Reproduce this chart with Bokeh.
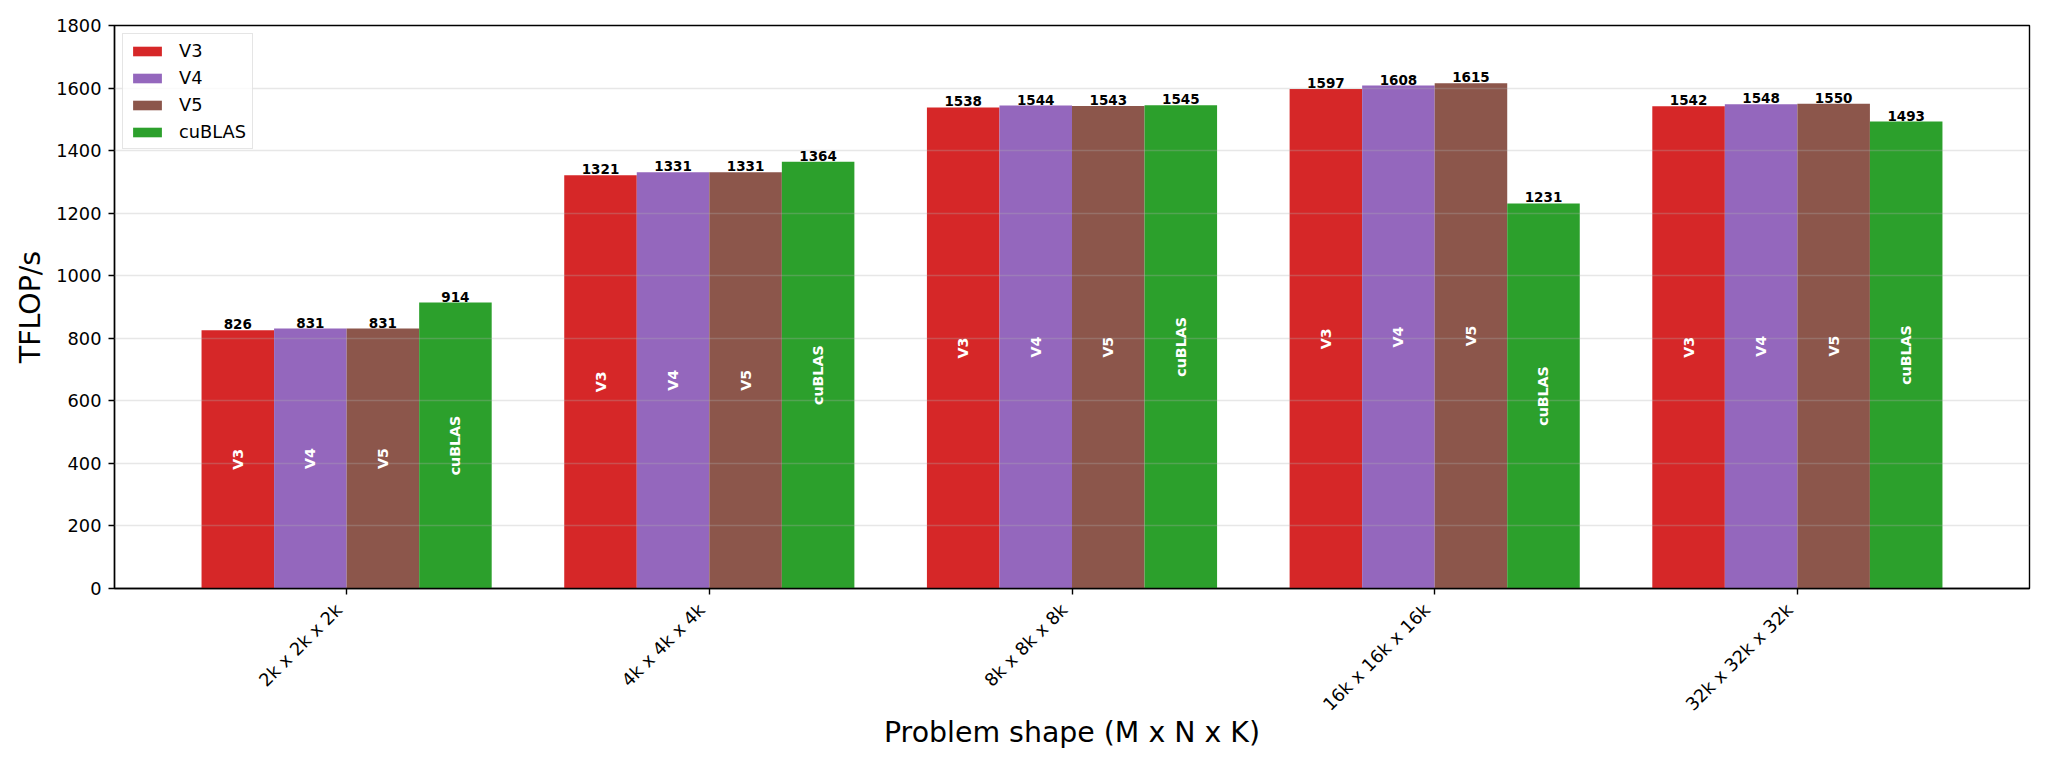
import math
from bokeh.plotting import figure
from bokeh.models import FixedTicker, Range1d, ColumnDataSource, LinearAxis
from bokeh.embed import file_html
from bokeh.resources import INLINE
from bokeh.core.properties import value

# ---- data ----
shapes = ["2k x 2k x 2k", "4k x 4k x 4k", "8k x 8k x 8k", "16k x 16k x 16k", "32k x 32k x 32k"]
series_names = ["V3", "V4", "V5", "cuBLAS"]
v3 = [826, 1321, 1538, 1597, 1542]
v4 = [831, 1331, 1544, 1608, 1548]
v5 = [831, 1331, 1543, 1615, 1550]
cublas = [914, 1364, 1545, 1231, 1493]
series_colors = ["#d62728", "#9467bd", "#8c564b", "#2ca02c"]
y_ticks = [0, 200, 400, 600, 800, 1000, 1200, 1400, 1600, 1800]

series_values = [v3, v4, v5, cublas]
bar_w = 0.2
label_shift = 0.022  # tick labels are right-aligned just left of their tick
FONT = "DejaVu Sans"

p = figure(
    frame_width=1915, frame_height=563,
    x_range=Range1d(-0.64, 4.64), y_range=Range1d(0, 1800),
    output_backend="svg", toolbar_location=None,
    min_border_left=114, min_border_right=11, min_border_top=25, min_border_bottom=172,
)
p.background_fill_color = "white"
p.border_fill_color = "white"
p.outline_line_color = "black"
p.outline_line_width = 1.4

for j, (name, vals, col) in enumerate(zip(series_names, series_values, series_colors)):
    xs = [i + (j - 1.5) * bar_w for i in range(len(shapes))]
    src = ColumnDataSource(dict(
        x=xs, top=vals, mid=[v / 2 for v in vals],
        lab=[str(v) for v in vals], name=[name] * len(vals),
    ))
    p.vbar(x="x", top="top", width=bar_w, source=src, fill_color=col, line_color=None,
           legend_label=name)
    p.text(x="x", y="top", text="lab", source=src, text_align="center",
           text_baseline="alphabetic", y_offset=-6, text_color="black",
           text_font=value(FONT), text_font_style="bold", text_font_size="13.5px",
           level="annotation")
    p.text(x="x", y="mid", text="name", source=src, angle=math.pi / 2,
           text_align="center", text_baseline="middle", text_color="white",
           text_font=value(FONT), text_font_style="bold", text_font_size="14.2px",
           level="annotation")

# grid
p.xgrid.visible = False
p.ygrid.grid_line_color = "#b0b0b0"
p.ygrid.grid_line_alpha = 0.3
p.ygrid.grid_line_width = 1.4
p.ygrid.level = "guide"
p.ygrid.ticker = FixedTicker(ticks=y_ticks)

# axes
x_ticks = list(range(len(shapes)))
p.yaxis.ticker = FixedTicker(ticks=y_ticks)
p.xaxis.ticker = FixedTicker(ticks=x_ticks)

for ax in (p.xaxis, p.yaxis):
    ax.axis_line_color = "black"
    ax.axis_line_width = 1.4
    ax.major_tick_line_color = "black"
    ax.major_tick_line_width = 1.4
    ax.major_tick_out = 6
    ax.major_tick_in = 0
    ax.minor_tick_line_color = None
    ax.major_label_text_font = FONT
    ax.major_label_text_font_size = "17.8px"
    ax.major_label_text_color = "black"
    ax.major_label_standoff = 7
    ax.axis_label_text_font = FONT
    ax.axis_label_text_font_size = "28.4px"
    ax.axis_label_text_font_style = "normal"
    ax.axis_label_text_color = "black"

# tick-only bottom axis
p.xaxis.major_label_overrides = {t: "" for t in x_ticks}
p.xaxis.major_label_text_font_size = "0px"
p.xaxis.major_label_standoff = 0

# label-only bottom axis
lab_ticks = [t - label_shift for t in x_ticks]
lab_axis = LinearAxis(
    ticker=FixedTicker(ticks=lab_ticks),
    major_label_overrides={t: s for t, s in zip(lab_ticks, shapes)},
    major_label_orientation=math.pi / 4,
    major_tick_out=0, major_tick_in=0, major_tick_line_color=None,
    minor_tick_line_color=None, axis_line_color=None,
    major_label_text_font=FONT, major_label_text_font_size="17.8px",
    major_label_text_color="black", major_label_standoff=12,
    axis_label="Problem shape (M x N x K)",
    axis_label_text_font=FONT, axis_label_text_font_size="28.4px",
    axis_label_text_font_style="normal", axis_label_text_color="black",
    axis_label_standoff=-9,
)
p.add_layout(lab_axis, "below")

p.yaxis.axis_label_standoff = 6
p.yaxis.axis_label = "TFLOP/s"

# legend
lg = p.legend[0]
lg.location = "top_left"
lg.margin = 8
lg.padding = 6
lg.spacing = 6
lg.glyph_width = 36
lg.glyph_height = 12
lg.label_height = 20
lg.label_standoff = 14
lg.label_text_font = FONT
lg.label_text_font_size = "17.8px"
lg.label_text_color = "black"
lg.border_line_color = "#cccccc"
lg.border_line_width = 1.4
lg.background_fill_color = "white"
lg.background_fill_alpha = 0.8

open("out.html", "w").write(file_html(p, INLINE))
